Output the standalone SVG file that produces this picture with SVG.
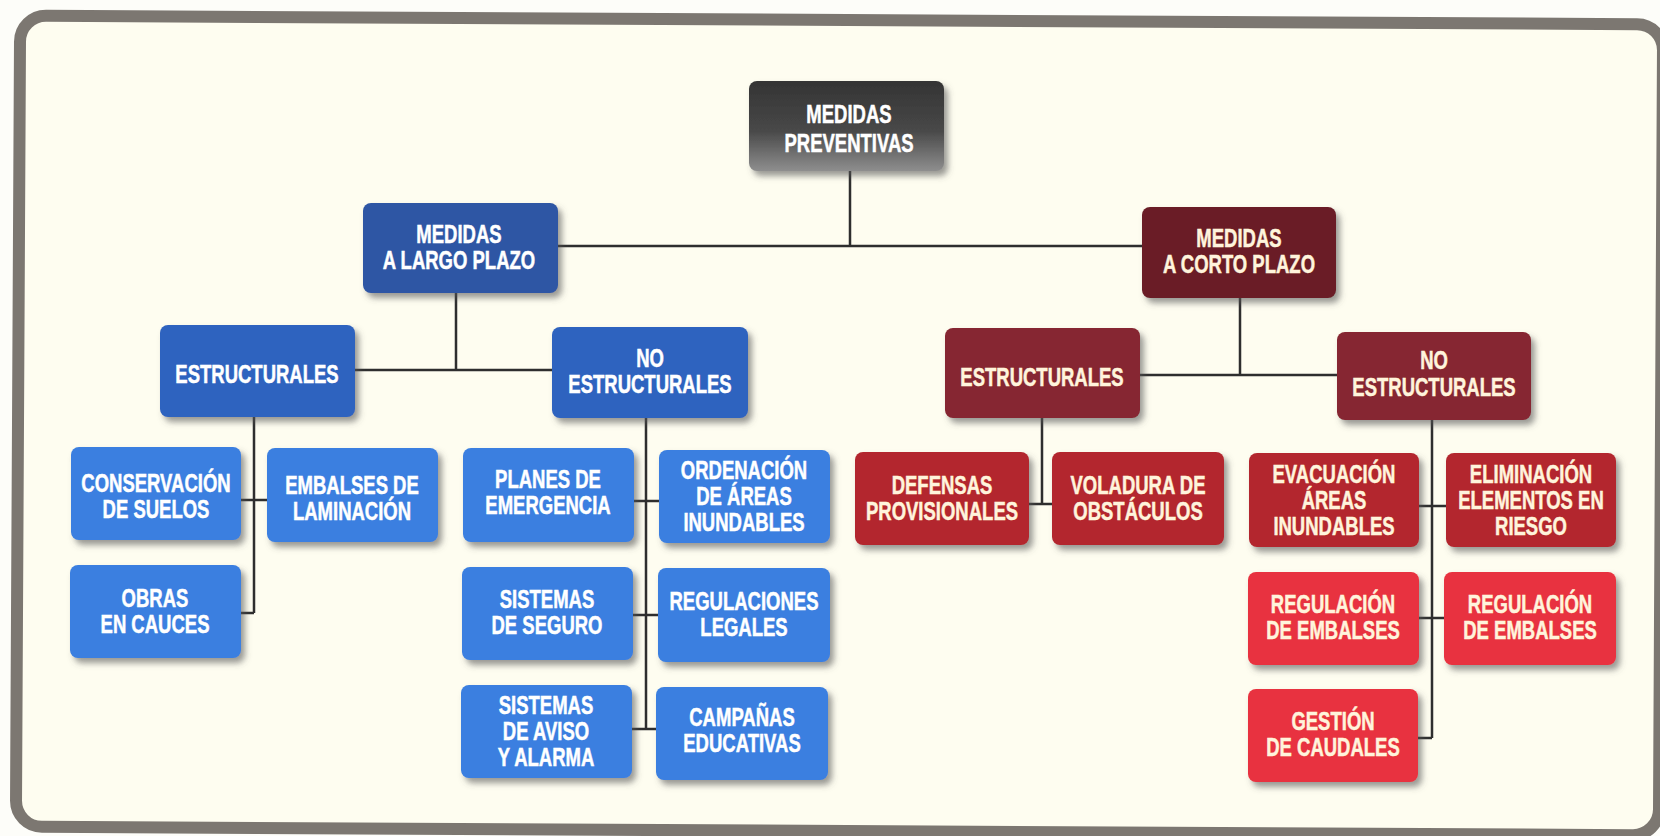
<svg xmlns="http://www.w3.org/2000/svg" width="1660" height="836" viewBox="0 0 1660 836">
<style>
.t{font-family:"Liberation Sans",Arial,sans-serif;font-weight:bold;font-size:25px;text-anchor:middle;fill:#ffffff;stroke:#ffffff;stroke-width:0.5}
.tr{fill:#fff4dc;stroke:#fff4dc}
.conn{stroke:#2e2e2e;stroke-width:2.5;fill:none}
</style>
<defs>
<filter id="sh" x="-10%" y="-10%" width="125%" height="130%">
<feDropShadow dx="4" dy="5" stdDeviation="3" flood-color="#555555" flood-opacity="0.6"/>
</filter>
<linearGradient id="gTop" x1="0" y1="0" x2="0" y2="1">
<stop offset="0" stop-color="#343434"/>
<stop offset="0.55" stop-color="#484848"/>
<stop offset="1" stop-color="#8e8e8e"/>
</linearGradient>
</defs>
<rect width="1660" height="836" fill="#fdfdf9"/>
<g id="frame" transform="rotate(0.3 840 425)">
<rect x="18" y="20" width="1643" height="811" rx="26" fill="#fefdf0" stroke="#7c7771" stroke-width="12"/>
</g>
<g id="connectors" class="conn">
<path d="M850,171 V246 M558,246 H1142"/>
<path d="M456,293 V370 M355,370 H552"/>
<path d="M1240,298 V375 M1140,375 H1337"/>
<path d="M254,417 V613 M241,500 H267 M241,613 H254"/>
<path d="M646,418 V729 M634,501 H659 M633,615 H658 M632,729 H656"/>
<path d="M1042,418 V504 M1029,504 H1052"/>
<path d="M1432,420 V738 M1419,506 H1446 M1419,618 H1444 M1418,738 H1432"/>
</g>
<g id="n-top"><rect x="749" y="81" width="195" height="90" rx="8" fill="url(#gTop)" filter="url(#sh)"/>
<text class="t" transform="translate(849 0) scale(0.74 1)"><tspan x="0" y="123">MEDIDAS</tspan><tspan x="0" y="152">PREVENTIVAS</tspan></text></g>
<g id="n-largo"><rect x="363" y="203" width="195" height="90" rx="8" fill="#2d56a4" filter="url(#sh)"/>
<text class="t" transform="translate(459 0) scale(0.74 1)"><tspan x="0" y="243">MEDIDAS</tspan><tspan x="0" y="269">A LARGO PLAZO</tspan></text></g>
<g id="n-corto"><rect x="1142" y="207" width="194" height="91" rx="8" fill="#6a1f27" filter="url(#sh)"/>
<text class="t tr" transform="translate(1239 0) scale(0.74 1)"><tspan x="0" y="247">MEDIDAS</tspan><tspan x="0" y="273">A CORTO PLAZO</tspan></text></g>
<g id="n-b-est"><rect x="160" y="325" width="195" height="92" rx="8" fill="#2f63bf" filter="url(#sh)"/>
<text class="t" transform="translate(257 0) scale(0.74 1)" x="0" y="383">ESTRUCTURALES</text></g>
<g id="n-b-noest"><rect x="552" y="327" width="196" height="91" rx="8" fill="#2f63bf" filter="url(#sh)"/>
<text class="t" transform="translate(650 0) scale(0.74 1)"><tspan x="0" y="367">NO</tspan><tspan x="0" y="393">ESTRUCTURALES</tspan></text></g>
<g id="n-r-est"><rect x="945" y="328" width="195" height="90" rx="8" fill="#862530" filter="url(#sh)"/>
<text class="t tr" transform="translate(1042 0) scale(0.74 1)" x="0" y="386">ESTRUCTURALES</text></g>
<g id="n-r-noest"><rect x="1337" y="332" width="194" height="88" rx="8" fill="#862530" filter="url(#sh)"/>
<text class="t tr" transform="translate(1434 0) scale(0.74 1)"><tspan x="0" y="369">NO</tspan><tspan x="0" y="396">ESTRUCTURALES</tspan></text></g>
<g id="n-conservacion"><rect x="71" y="447" width="170" height="93" rx="8" fill="#3a7fe0" filter="url(#sh)"/>
<text class="t" transform="translate(156 0) scale(0.74 1)"><tspan x="0" y="492">CONSERVACIÓN</tspan><tspan x="0" y="518">DE SUELOS</tspan></text></g>
<g id="n-embalses"><rect x="267" y="448" width="171" height="94" rx="8" fill="#3a7fe0" filter="url(#sh)"/>
<text class="t" transform="translate(352 0) scale(0.74 1)"><tspan x="0" y="494">EMBALSES DE</tspan><tspan x="0" y="520">LAMINACIÓN</tspan></text></g>
<g id="n-obras"><rect x="70" y="565" width="171" height="93" rx="8" fill="#3a7fe0" filter="url(#sh)"/>
<text class="t" transform="translate(155 0) scale(0.74 1)"><tspan x="0" y="607">OBRAS</tspan><tspan x="0" y="633">EN CAUCES</tspan></text></g>
<g id="n-planes"><rect x="463" y="448" width="171" height="94" rx="8" fill="#3a7fe0" filter="url(#sh)"/>
<text class="t" transform="translate(548 0) scale(0.74 1)"><tspan x="0" y="488">PLANES DE</tspan><tspan x="0" y="514">EMERGENCIA</tspan></text></g>
<g id="n-ordenacion"><rect x="659" y="450" width="171" height="93" rx="8" fill="#3a7fe0" filter="url(#sh)"/>
<text class="t" transform="translate(744 0) scale(0.74 1)"><tspan x="0" y="479">ORDENACIÓN</tspan><tspan x="0" y="505">DE ÁREAS</tspan><tspan x="0" y="531">INUNDABLES</tspan></text></g>
<g id="n-seguro"><rect x="462" y="567" width="171" height="93" rx="8" fill="#3a7fe0" filter="url(#sh)"/>
<text class="t" transform="translate(547 0) scale(0.74 1)"><tspan x="0" y="608">SISTEMAS</tspan><tspan x="0" y="634">DE SEGURO</tspan></text></g>
<g id="n-regulaciones"><rect x="658" y="568" width="172" height="94" rx="8" fill="#3a7fe0" filter="url(#sh)"/>
<text class="t" transform="translate(744 0) scale(0.74 1)"><tspan x="0" y="610">REGULACIONES</tspan><tspan x="0" y="636">LEGALES</tspan></text></g>
<g id="n-aviso"><rect x="461" y="685" width="171" height="93" rx="8" fill="#3a7fe0" filter="url(#sh)"/>
<text class="t" transform="translate(546 0) scale(0.74 1)"><tspan x="0" y="714">SISTEMAS</tspan><tspan x="0" y="740">DE AVISO</tspan><tspan x="0" y="766">Y ALARMA</tspan></text></g>
<g id="n-campanas"><rect x="656" y="687" width="172" height="93" rx="8" fill="#3a7fe0" filter="url(#sh)"/>
<text class="t" transform="translate(742 0) scale(0.74 1)"><tspan x="0" y="726">CAMPAÑAS</tspan><tspan x="0" y="752">EDUCATIVAS</tspan></text></g>
<g id="n-defensas"><rect x="855" y="452" width="174" height="93" rx="8" fill="#b3262f" filter="url(#sh)"/>
<text class="t tr" transform="translate(942 0) scale(0.74 1)"><tspan x="0" y="494">DEFENSAS</tspan><tspan x="0" y="520">PROVISIONALES</tspan></text></g>
<g id="n-voladura"><rect x="1052" y="452" width="172" height="93" rx="8" fill="#b3262f" filter="url(#sh)"/>
<text class="t tr" transform="translate(1138 0) scale(0.74 1)"><tspan x="0" y="494">VOLADURA DE</tspan><tspan x="0" y="520">OBSTÁCULOS</tspan></text></g>
<g id="n-evacuacion"><rect x="1249" y="453" width="170" height="94" rx="8" fill="#b3262f" filter="url(#sh)"/>
<text class="t tr" transform="translate(1334 0) scale(0.74 1)"><tspan x="0" y="483">EVACUACIÓN</tspan><tspan x="0" y="509">ÁREAS</tspan><tspan x="0" y="535">INUNDABLES</tspan></text></g>
<g id="n-eliminacion"><rect x="1446" y="453" width="170" height="94" rx="8" fill="#b3262f" filter="url(#sh)"/>
<text class="t tr" transform="translate(1531 0) scale(0.74 1)"><tspan x="0" y="483">ELIMINACIÓN</tspan><tspan x="0" y="509">ELEMENTOS EN</tspan><tspan x="0" y="535">RIESGO</tspan></text></g>
<g id="n-regemb1"><rect x="1248" y="572" width="171" height="93" rx="8" fill="#e8333f" filter="url(#sh)"/>
<text class="t tr" transform="translate(1333 0) scale(0.74 1)"><tspan x="0" y="613">REGULACIÓN</tspan><tspan x="0" y="639">DE EMBALSES</tspan></text></g>
<g id="n-regemb2"><rect x="1444" y="572" width="172" height="93" rx="8" fill="#e8333f" filter="url(#sh)"/>
<text class="t tr" transform="translate(1530 0) scale(0.74 1)"><tspan x="0" y="613">REGULACIÓN</tspan><tspan x="0" y="639">DE EMBALSES</tspan></text></g>
<g id="n-gestion"><rect x="1248" y="689" width="170" height="93" rx="8" fill="#e8333f" filter="url(#sh)"/>
<text class="t tr" transform="translate(1333 0) scale(0.74 1)"><tspan x="0" y="730">GESTIÓN</tspan><tspan x="0" y="756">DE CAUDALES</tspan></text></g>
</svg>
